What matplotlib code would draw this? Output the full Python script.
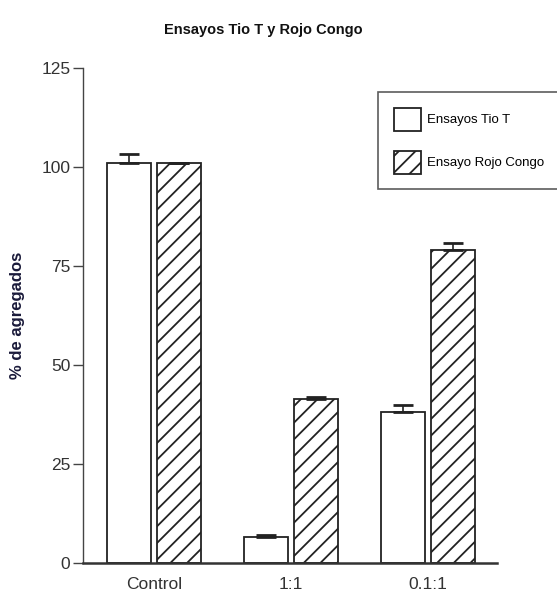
import matplotlib
matplotlib.use("Agg")
import matplotlib.pyplot as plt
import numpy as np

# data
categorias = ["Control", "1:1", "0.1:1"]
tio_t = [100.9, 6.6, 38.2]
tio_t_err = [2.4, 0.5, 1.8]
rojo_congo = [100.9, 41.4, 79.0]
rojo_congo_err = [0.2, 0.6, 1.7]
yticks = [0, 25, 50, 75, 100, 125]

fuente = ["Liberation Sans", "DejaVu Sans"]
plt.rcParams["hatch.linewidth"] = 1.3
plt.rcParams["font.family"] = fuente

fig = plt.figure(figsize=(5.57, 6.0), dpi=100)
ax = fig.add_axes([0.149, 0.0617, 0.743, 0.825])

x = np.arange(len(categorias))
w = 0.32
off = 0.182
col = "#222222"

ax.bar(x - off, tio_t, w, color="white", edgecolor=col, linewidth=1.3,
       yerr=[np.zeros(3), tio_t_err], capsize=7,
       error_kw=dict(ecolor=col, elinewidth=1.2, capthick=2),
       label="Ensayos Tio T")
ax.bar(x + off, rojo_congo, w, color="white", edgecolor=col, linewidth=1.3,
       hatch="//", yerr=[np.zeros(3), rojo_congo_err], capsize=7,
       error_kw=dict(ecolor=col, elinewidth=1.2, capthick=2),
       label="Ensayo Rojo Congo")

ax.set_xlim(-0.518, 2.504)
ax.set_ylim(0, 125)
ax.set_yticks(yticks)
ax.set_xticks(x)
ax.set_xticklabels(categorias)

for s in ["top", "right"]:
    ax.spines[s].set_visible(False)
ax.spines["left"].set_color("#444444")
ax.spines["left"].set_linewidth(1.0)
ax.spines["bottom"].set_color("#333333")
ax.spines["bottom"].set_linewidth(1.8)

ax.tick_params(axis="y", length=7, width=1.0, color="#444444",
               labelsize=12.5, labelcolor="#333333", pad=2)
ax.tick_params(axis="x", length=0, labelsize=12.5, labelcolor="#333333", pad=10)

fig.text(263 / 557, 1 - 30 / 600, "Ensayos Tio T y Rojo Congo",
         ha="center", va="center", fontsize=10.5, fontweight="bold",
         color="#111111")
fig.text(18 / 557, 1 - 315 / 600, "% de agregados", rotation=90,
         ha="center", va="center", fontsize=12, fontweight="bold",
         color="#1a1a3a")

leg = ax.legend(loc="upper left", bbox_to_anchor=(378 / 557, 1 - 92 / 600, 0.34, 0),
                bbox_transform=fig.transFigure, mode="expand",
                fontsize=9.5, frameon=True, fancybox=False,
                handlelength=2.05, handleheight=2.3, handletextpad=0.5,
                labelspacing=1.5, borderpad=1.2, borderaxespad=0)
leg.get_frame().set_edgecolor("#333333")
leg.get_frame().set_linewidth(1.2)

fig.savefig("out.png", dpi=100)
